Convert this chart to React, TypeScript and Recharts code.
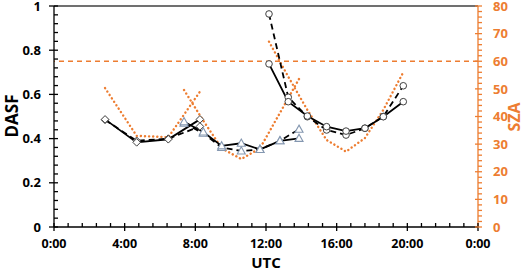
import { Line, LineChart, ReferenceLine, XAxis, YAxis } from "recharts";

// UTC hour of each overpass, per marker group
const diamondHours = [2.89, 4.68, 6.47, 8.26];
const diamondSolid = [0.487, 0.383, 0.397, 0.487];
const diamondDashed = [0.485, 0.39, 0.4, 0.455];
const diamondSza = [50.3, 33.0, 32.5, 49.0];

const triangleHours = [7.36, 8.45, 9.49, 10.6, 11.66, 12.79, 13.87];
const triangleSolid = [0.476, 0.43, 0.367, 0.379, 0.351, 0.39, 0.401];
const triangleDashed = [0.47, 0.424, 0.36, 0.344, 0.351, 0.39, 0.442];
const triangleSza = [49.6, 38.5, 28.5, 24.6, 28.5, 41.3, 53.6];

const circleHours = [12.17, 13.26, 14.34, 15.43, 16.53, 17.6, 18.64, 19.77];
const circleSolid = [0.738, 0.567, 0.502, 0.454, 0.434, 0.447, 0.499, 0.567];
const circleDashed = [0.964, 0.587, 0.499, 0.439, 0.416, 0.447, 0.5, 0.639];
const circleSza = [67.1, 54.4, 42.4, 31.5, 27.3, 32.2, 42.4, 56.0];

const xLabels = ["0:00", "4:00", "8:00", "12:00", "16:00", "20:00", "0:00"];
const leftLabels = ["0", "0.2", "0.4", "0.6", "0.8", "1"];
const rightLabels = ["0", "10", "20", "30", "40", "50", "60", "70", "80"];
const szaLimit = 60;

const ORANGE = "#ED7D31";
const FONT = "'Open Sans', sans-serif";

const xTicks = Array.from({ length: 31 }, (_, i) => i * 0.8);
const leftTicks = Array.from({ length: 26 }, (_, i) => i * 0.04);
const rightTicks = Array.from({ length: 41 }, (_, i) => i * 2);

const rows = (hours: number[], vals: number[]) => hours.map((t, i) => ({ t, v: vals[i] }));

const XTick = (p: any) => {
  const major = p.index % 5 === 0;
  return (
    <g>
      <line x1={p.x} x2={p.x} y1={p.y - 4} y2={major ? p.y + 4 : p.y} stroke="#000" strokeWidth={1.3} />
      {major && (
        <text x={p.x} y={p.y + 20.5} textAnchor="middle" fontSize={12.5} fontWeight={700} fontFamily={FONT} fill="#000">
          {xLabels[p.index / 5]}
        </text>
      )}
    </g>
  );
};

const LeftTick = (p: any) => {
  const major = p.index % 5 === 0;
  return (
    <g>
      <line x1={major ? p.x - 5 : p.x} x2={p.x + 4} y1={p.y} y2={p.y} stroke="#000" strokeWidth={1.3} />
      {major && (
        <text x={p.x - 13} y={p.y} dy="0.36em" textAnchor="end" fontSize={13} fontWeight={700} fontFamily={FONT} fill="#000">
          {leftLabels[p.index / 5]}
        </text>
      )}
    </g>
  );
};

const RightTick = (p: any) => {
  const major = p.index % 5 === 0;
  return (
    <g>
      <line x1={major ? p.x - 3 : p.x} x2={p.x + 4} y1={p.y} y2={p.y} stroke={ORANGE} strokeWidth={1.3} />
      {major && (
        <text x={p.x + 15} y={p.y} dy="0.36em" textAnchor="start" fontSize={13} fontWeight={700} fontFamily={FONT} fill={ORANGE}>
          {rightLabels[p.index / 5]}
        </text>
      )}
    </g>
  );
};

const Diamond = (p: any) => (
  <path
    key={p.key}
    d={`M${p.cx},${p.cy - 3.8}L${p.cx + 3.8},${p.cy}L${p.cx},${p.cy + 3.8}L${p.cx - 3.8},${p.cy}Z`}
    fill="#fff"
    stroke="#404040"
    strokeWidth={1}
  />
);

const Triangle = (p: any) => (
  <path
    key={p.key}
    d={`M${p.cx},${p.cy - 4.2}L${p.cx + 4},${p.cy + 3}L${p.cx - 4},${p.cy + 3}Z`}
    fill="#fff"
    stroke="#8497B0"
    strokeWidth={1.1}
  />
);

const Circle = (p: any) => (
  <circle key={p.key} cx={p.cx} cy={p.cy} r={3.3} fill="#fff" stroke="#404040" strokeWidth={1} />
);

const solid = { stroke: "#000", strokeWidth: 1.8 };
const dashed = { stroke: "#000", strokeWidth: 1.8, strokeDasharray: "6 4" };
const dotted = { stroke: ORANGE, strokeWidth: 2.4, strokeDasharray: "0.1 4", strokeLinecap: "round" as const };

export default function App() {
  return (
    <div style={{ position: "absolute", left: 0, top: 0, width: 526, height: 272, background: "#fff" }}>
      <LineChart width={526} height={272} margin={{ top: 6, right: 0, bottom: 0, left: 0 }}>
        <XAxis
          xAxisId="x"
          dataKey="t"
          type="number"
          domain={[0, 24]}
          ticks={xTicks}
          interval={0}
          height={45}
          tickSize={0}
          tickMargin={0}
          tickLine={false}
          tick={XTick}
          axisLine={{ stroke: "#000", strokeWidth: 1.3 }}
          allowDataOverflow
        />
        <YAxis
          yAxisId="left"
          type="number"
          domain={[0, 1]}
          ticks={leftTicks}
          interval={0}
          width={54}
          tickSize={0}
          tickMargin={0}
          tickLine={false}
          tick={LeftTick}
          axisLine={{ stroke: "#000", strokeWidth: 1.3 }}
          allowDataOverflow
        />
        <YAxis
          yAxisId="right"
          orientation="right"
          type="number"
          domain={[0, 80]}
          ticks={rightTicks}
          interval={0}
          width={48}
          tickSize={0}
          tickMargin={0}
          tickLine={false}
          tick={RightTick}
          axisLine={{ stroke: ORANGE, strokeWidth: 1.3 }}
          allowDataOverflow
        />
        <ReferenceLine xAxisId="x" yAxisId="left" y={1} stroke="#404040" strokeWidth={1.5} />
        <ReferenceLine xAxisId="x" yAxisId="right" y={szaLimit} stroke={ORANGE} strokeWidth={1.3} strokeDasharray="5 4" />

        <Line xAxisId="x" yAxisId="right" data={rows(diamondHours, diamondSza)} dataKey="v" {...dotted} dot={false} isAnimationActive={false} />
        <Line xAxisId="x" yAxisId="right" data={rows(triangleHours, triangleSza)} dataKey="v" {...dotted} dot={false} isAnimationActive={false} />
        <Line xAxisId="x" yAxisId="right" data={rows(circleHours, circleSza)} dataKey="v" {...dotted} dot={false} isAnimationActive={false} />

        <Line xAxisId="x" yAxisId="left" data={rows(diamondHours, diamondDashed)} dataKey="v" {...dashed} dot={Diamond} isAnimationActive={false} />
        <Line xAxisId="x" yAxisId="left" data={rows(diamondHours, diamondSolid)} dataKey="v" {...solid} dot={Diamond} isAnimationActive={false} />
        <Line xAxisId="x" yAxisId="left" data={rows(triangleHours, triangleDashed)} dataKey="v" {...dashed} dot={Triangle} isAnimationActive={false} />
        <Line xAxisId="x" yAxisId="left" data={rows(triangleHours, triangleSolid)} dataKey="v" {...solid} dot={Triangle} isAnimationActive={false} />
        <Line xAxisId="x" yAxisId="left" data={rows(circleHours, circleDashed)} dataKey="v" {...dashed} dot={Circle} isAnimationActive={false} />
        <Line xAxisId="x" yAxisId="left" data={rows(circleHours, circleSolid)} dataKey="v" {...solid} dot={Circle} isAnimationActive={false} />

        <text x={266} y={267.5} textAnchor="middle" fontSize={15} fontWeight={700} fontFamily={FONT} fill="#000">
          UTC
        </text>
        <text transform="translate(18,116) rotate(-90)" textAnchor="middle" fontSize={17} fontWeight={700} fontFamily={FONT} fill="#000">
          DASF
        </text>
        <text transform="translate(520,117) rotate(-90)" textAnchor="middle" fontSize={16} fontWeight={700} fontFamily={FONT} fill={ORANGE}>
          SZA
        </text>
      </LineChart>
    </div>
  );
}
